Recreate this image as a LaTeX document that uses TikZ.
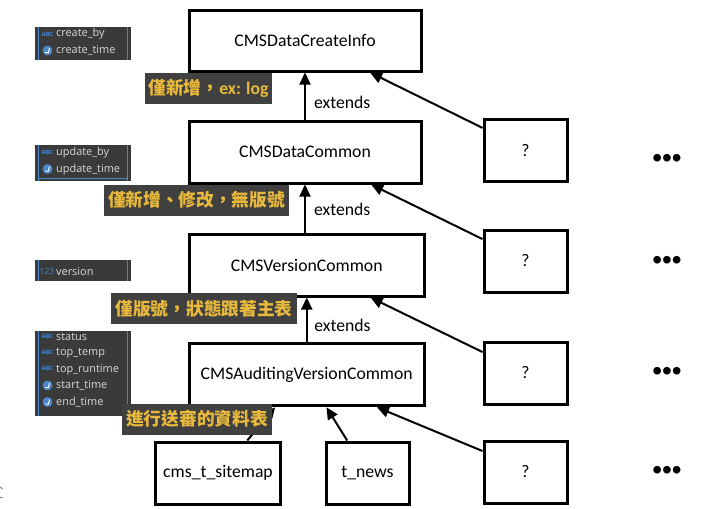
\documentclass[tikz,border=0pt]{standalone}
\usepackage{fontspec}
\setmainfont{Carlito}
\newfontfamily\cjk{Noto Sans CJK TC}
\newfontfamily\panelfont{Open Sans}
\newfontfamily\dotfont{Liberation Sans}
\usetikzlibrary{arrows.meta}
\definecolor{tagbg}{HTML}{404040}
\definecolor{tagtext}{HTML}{E9B93C}
\definecolor{panelbg}{HTML}{3A3A3A}
\definecolor{iconblue}{HTML}{4A86C8}
\tikzset{x=1pt, y=-1pt,
classbox/.style={ % Boxes of the class chain
draw,
line width=3pt,
outer sep=1.5pt,
inner sep=0pt,
minimum height=62pt,
font=\fontsize{17.7}{20}\selectfont},
every edge/.style={ % Sets the properties for each arrow
draw,
-{Triangle[width=11pt,length=12pt]},
line width=2pt},
extlabel/.style={right, pos=.36, inner sep=8pt, font=\fontsize{17.7}{20}\selectfont},
tag/.style={ % Dark notes with yellow text
fill=tagbg,
text=tagtext,
inner sep=0pt,
minimum height=31pt,
font=\bfseries\cjk\fontsize{17.7}{20}\selectfont},
panel/.style={fill=panelbg, inner sep=0pt, minimum width=96pt},
field/.style={anchor=west, inner sep=0pt, text=white!85!black, font=\panelfont\fontsize{10.9}{12}\selectfont},
abc/.style={inner sep=0pt, text=iconblue, font=\bfseries\panelfont\fontsize{6}{7}\selectfont},
num/.style={inner sep=0pt, text=iconblue, font=\panelfont\fontsize{8.5}{9}\selectfont},
moredots/.style={inner sep=0pt, font=\dotfont\fontsize{28}{30}\selectfont},
clock/.pic={
\fill[iconblue] (0,0) circle (5);
\draw[white, line width=1pt] (-2.5,2) -- (1,2) -- (2,-2.5);}}

\begin{document}
\begin{tikzpicture}
\useasboundingbox (0,0) rectangle (718,509);
% screenshots of the columns
\node[panel, minimum height=33pt] (pcreate) at (83,43.5) {};
\node[panel, minimum height=35.5pt] (pupdate) at (83,162.75) {};
\node[panel, minimum height=21pt] (pversion) at (83,270.5) {};
\node[panel, minimum height=85pt] (pstatus) at (83,373.5) {};
\foreach \p in {pcreate,pupdate,pversion,pstatus}{
\draw[iconblue, line width=1pt] (\p.north west)++(3.5,0) coordinate (a\p) -- (a\p |- \p.south);
\draw[iconblue, line width=1pt] (\p.north east)++(-3.5,0) coordinate (b\p) -- (b\p |- \p.south);
}
\draw[iconblue, line width=1pt] (38.5,178.5) -- (127.5,178.5);
\node[abc] (i1) at (47.5,34) {ABC};
\node[field] (f1) at (56,34) {create\_by};
\pic at (47.5,50.5) {clock};
\node[field] (f2) at (56,50.5) {create\_time};
\node[abc] (i3) at (47.5,152.5) {ABC};
\node[field] (f3) at (56,153) {update\_by};
\pic at (47.5,169) {clock};
\node[field] (f4) at (56,169.5) {update\_time};
\node[num] (i5) at (47,271) {123};
\node[field] (f5) at (56,272) {version};
\node[abc] (i6) at (47.5,336.5) {ABC};
\node[field] (f6) at (56,337) {status};
\node[abc] (i7) at (47.5,352.5) {ABC};
\node[field] (f7) at (56,353.5) {top\_temp};
\node[abc] (i8) at (47.5,368.5) {ABC};
\node[field] (f8) at (56,369.5) {top\_runtime};
\pic at (47.5,385.5) {clock};
\node[field] (f9) at (56,385.5) {start\_time};
\pic at (47.5,402) {clock};
\node[field] (f10) at (56,402) {end\_time};
% class chain
\node[classbox, minimum width=232pt, minimum height=60.5pt] (ci) at (305,40.75) {CMSDataCreateInfo};
\node[classbox, minimum width=232pt, minimum height=61.5pt] (dc) at (305,152.25) {CMSDataCommon};
\node[classbox, minimum width=235.5pt] (ver) at (306.75,265) {CMSVersionCommon};
\node[classbox, minimum width=235.5pt, minimum height=62.5pt] (aud) at (306.75,374.5) {CMSAuditingVersionCommon};
\node[classbox, minimum width=125pt] (site) at (218,473) {cms\_t\_sitemap};
\node[classbox, minimum width=83pt] (news) at (367.5,473) {t\_news};
\foreach \n/\y in {q1/150.75,q2/261,q3/373,q4/472}
\node[classbox, minimum width=83pt] (\n) at (525.5,\y) {?};
\draw (dc.north) edge node[extlabel]{extends} (ci.south);
\draw (ver.north -| dc.south) edge node[extlabel, pos=.48]{extends} (dc.south);
\draw (aud.north) edge node[extlabel, inner sep=6.5pt]{extends} (ver.south);
\draw (q1.152) edge (ci.-26);
\draw (q2.153) edge (dc.-26);
\draw (q3.154) edge (ver.-27);
\draw (q4.154) edge (aud.-25);
\draw (site.48) edge (aud.-134);
\draw (news.122) edge (aud.-59);
% notes
\node[tag, minimum width=127pt] (t1) at (208.5,88) {僅新增，{\fontspec{Carlito}ex: log}};
\node[tag, minimum width=185pt] (t2) at (196.5,200) {僅新增、修改，無版號};
\node[tag, minimum width=186pt] (t3) at (204,308.5) {僅版號，狀態跟著主表};
\node[tag, minimum width=150pt] (t4) at (197,419) {進行送審的資料表};
\foreach \n/\y in {d1/161,d2/263,d3/374,d4/473}
\node[moredots] (\n) at (667,\y) {•••};
% bit of a cut-off glyph at the page edge
\draw[gray, line width=1pt] (0,487) -- (2.5,489) (0,497) -- (2.5,498);
\end{tikzpicture}
\end{document}
